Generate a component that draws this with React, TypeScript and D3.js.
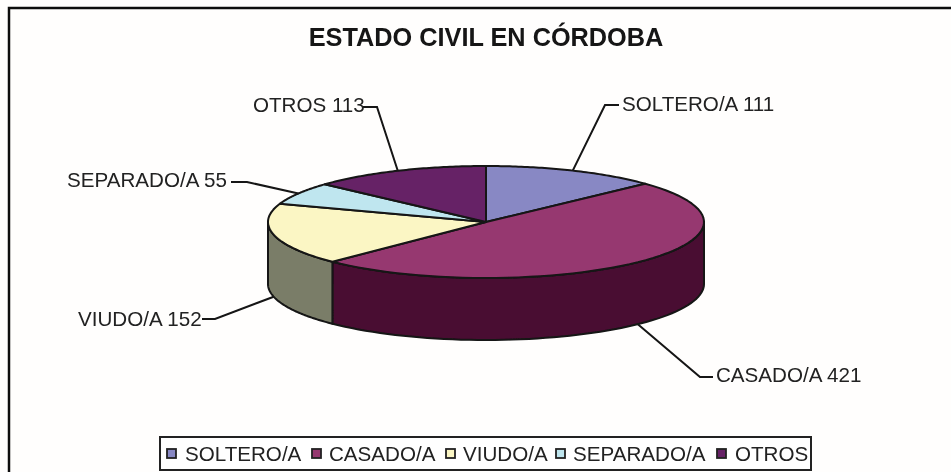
import { useEffect, useRef } from 'react';
import * as d3 from 'd3';

const categories = ['SOLTERO/A', 'CASADO/A', 'VIUDO/A', 'SEPARADO/A', 'OTROS'];
const values = [111, 421, 152, 55, 113];
const topColors = ['#8888c4', '#963770', '#fbf6c4', '#bfe6ef', '#662266'];
const sideColors = ['#6a6a98', '#4a1032', '#7a7d68', '#8fb0b8', '#451745'];

// label placement: text position, then leader elbow and where the leader stops
const labelLayout = [
  { x: 622, y: 111, elbowX: 605, elbowY: 105, endX: 619 },
  { x: 716, y: 382, elbowX: 700, elbowY: 377, endX: 713 },
  { x: 78, y: 326, elbowX: 215, elbowY: 319, endX: 202 },
  { x: 67, y: 187, elbowX: 247, elbowY: 182, endX: 231 },
  { x: 253, y: 112, elbowX: 377, elbowY: 107, endX: 363 },
];
const legendSwatchX = [167, 312, 446, 556, 717];
const legendTextX = [185, 329, 463, 573, 735];

const FONT = '"Liberation Sans", Arial, sans-serif';
const INK = '#141414';

function App() {
  const ref = useRef<SVGSVGElement>(null);

  useEffect(() => {
    const root = d3.select(ref.current);
    root.selectAll('*').remove();

    // reference is a soft scan, a small blur gets closer
    root.append('defs').append('filter').attr('id', 'soft')
      .attr('x', 0).attr('y', 0).attr('width', 1).attr('height', 1)
      .attr('filterUnits', 'objectBoundingBox')
      .append('feGaussianBlur').attr('stdDeviation', 0.45);
    const svg = root.append('g').attr('filter', 'url(#soft)');

    svg.append('rect').attr('width', 951).attr('height', 472).attr('fill', '#fffefd');
    // frame runs off the right and bottom of the picture
    svg.append('rect').attr('x', 9).attr('y', 8).attr('width', 1000).attr('height', 500)
      .attr('fill', 'none').attr('stroke', '#111').attr('stroke-width', 2.5);

    svg.append('text').attr('x', 486).attr('y', 46).attr('text-anchor', 'middle')
      .attr('font-family', FONT).attr('font-weight', 'bold').attr('font-size', 25.3)
      .attr('fill', INK).text('ESTADO CIVIL EN CÓRDOBA');

    const sx = d3.scaleLinear().domain([-1, 1]).range([268, 704]);
    const sy = d3.scaleLinear().domain([-1, 1]).range([278, 166]);
    const depth = 62;
    const px = (a: number) => sx(Math.sin(a));
    const py = (a: number) => sy(Math.cos(a));

    const arcs = d3.pie<number>().sort(null)(values);
    const line = d3.line();
    const sample = (a0: number, a1: number) =>
      d3.range(0, 61).map((i) => a0 + ((a1 - a0) * i) / 60);

    // side wall, only the front half of the ellipse shows
    arcs.forEach((d, i) => {
      const a0 = Math.max(d.startAngle, Math.PI / 2);
      const a1 = Math.min(d.endAngle, (3 * Math.PI) / 2);
      if (a1 <= a0) return;
      const angles = sample(a0, a1);
      const pts: [number, number][] = [
        ...angles.map((a) => [px(a), py(a)] as [number, number]),
        ...angles.slice().reverse().map((a) => [px(a), py(a) + depth] as [number, number]),
      ];
      svg.append('path').attr('d', line(pts) + 'Z').attr('fill', sideColors[i])
        .attr('stroke', INK).attr('stroke-width', 2).attr('stroke-linejoin', 'round');
    });

    // top face
    arcs.forEach((d, i) => {
      const pts: [number, number][] = [
        [sx(0), sy(0)],
        ...sample(d.startAngle, d.endAngle).map((a) => [px(a), py(a)] as [number, number]),
      ];
      svg.append('path').attr('d', line(pts) + 'Z').attr('fill', topColors[i])
        .attr('stroke', INK).attr('stroke-width', 2).attr('stroke-linejoin', 'round');
    });

    // leader lines and labels
    arcs.forEach((d, i) => {
      const mid = (d.startAngle + d.endAngle) / 2;
      const front = Math.cos(mid) < 0;
      const l = labelLayout[i];
      const pts: [number, number][] = [
        [px(mid), py(mid) + (front ? depth : 0)],
        [l.elbowX, l.elbowY],
        [l.endX, l.elbowY],
      ];
      svg.append('path').attr('d', line(pts)).attr('fill', 'none')
        .attr('stroke', INK).attr('stroke-width', 2);
      svg.append('text').attr('x', l.x).attr('y', l.y)
        .attr('font-family', FONT).attr('font-size', 20.6).attr('fill', '#222')
        .text(`${categories[i]} ${values[i]}`);
    });

    // legend
    svg.append('rect').attr('x', 160).attr('y', 437).attr('width', 651).attr('height', 33)
      .attr('fill', '#fff').attr('stroke', '#222').attr('stroke-width', 2);
    categories.forEach((c, i) => {
      svg.append('rect').attr('x', legendSwatchX[i]).attr('y', 449).attr('width', 9).attr('height', 9)
        .attr('fill', topColors[i]).attr('stroke', '#222').attr('stroke-width', 1.8);
      svg.append('text').attr('x', legendTextX[i]).attr('y', 461)
        .attr('font-family', FONT).attr('font-size', 20.6).attr('fill', '#222').text(c);
    });
  }, []);

  return (
    <svg ref={ref} width={951} height={472}
      style={{ position: 'absolute', left: 0, top: 0, display: 'block' }} />
  );
}

export default App;
